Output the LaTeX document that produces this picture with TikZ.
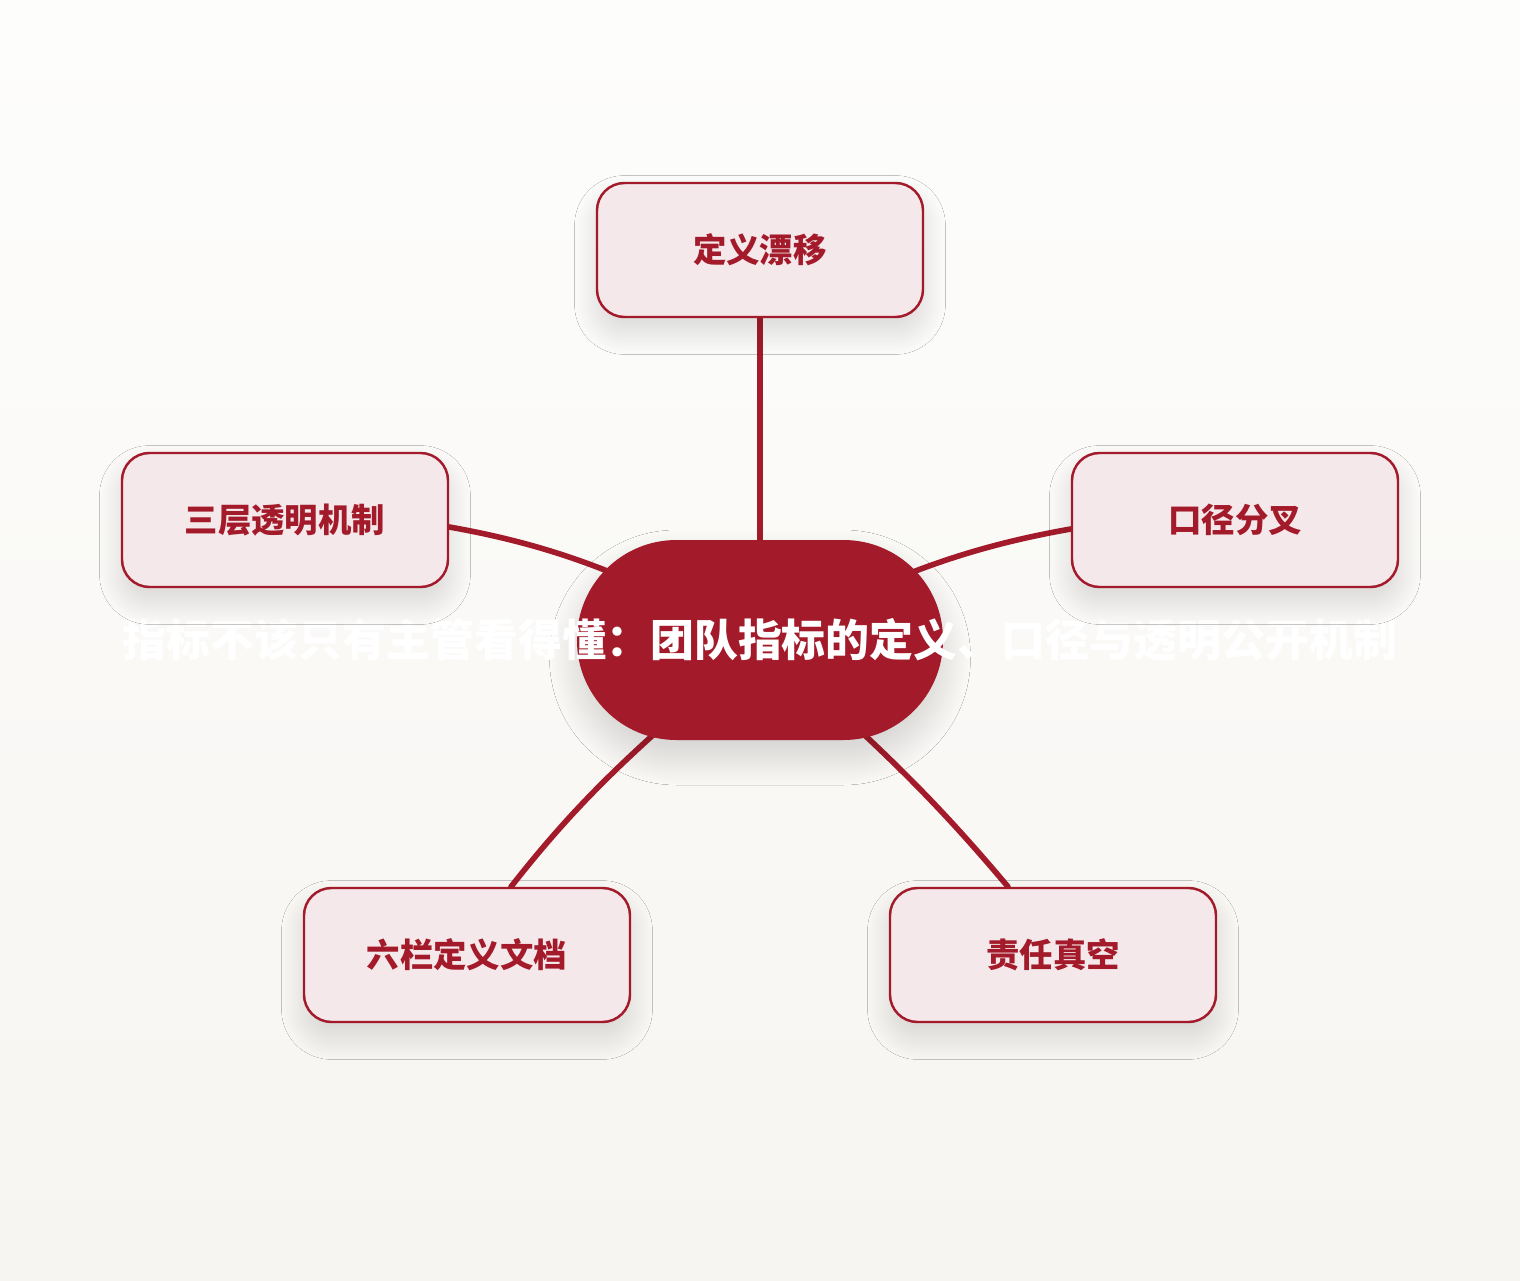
\documentclass[tikz,border=0pt]{standalone}
\usepackage{fontspec}
\setmainfont{Noto Sans CJK SC}
\usetikzlibrary{backgrounds, shadows.blur}
\definecolor{deepred}{HTML}{A31B2A}
\definecolor{blush}{HTML}{F4E8EA}
\definecolor{pagetop}{HTML}{FDFDFC}
\definecolor{pagebottom}{HTML}{F7F5F1}

\begin{document}
\begin{tikzpicture}[topic/.style={draw=deepred, line width=1.4pt, fill=blush,
		rounded corners=0.55cm, minimum width=6.52cm, minimum height=2.68cm,
		text=deepred, font=\fontsize{19pt}{23pt}\selectfont\bfseries,
		blur shadow={shadow xshift=0pt, shadow yshift=-0.3cm, shadow blur radius=0.45cm,
			shadow blur steps=40, shadow opacity=14}},
	hub/.style={fill=deepred, rounded corners=1.99cm, minimum width=7.32cm,
		minimum height=4cm, inner sep=0pt, text=white,
		font=\fontsize{25pt}{30pt}\selectfont\bfseries,
		blur shadow={shadow xshift=0pt, shadow yshift=-0.35cm, shadow blur radius=0.55cm,
			shadow blur steps=40, shadow opacity=16}},
	link/.style={draw=deepred, line width=3.2pt, line cap=round}]
	\useasboundingbox (-15.2,-12.8) rectangle (15.2,12.8);
	% centre and five topics
	\node[hub] (core) at (0,0) {\makebox[7.32cm]{指标不该只有主管看得懂：团队指标的定义、口径与透明公开机制}};
	\node[topic] (drift) at (0,7.8) {定义漂移};
	\node[topic] (layers) at (-9.5,2.4) {三层透明机制};
	\node[topic] (split) at (9.5,2.4) {口径分叉};
	\node[topic] (doc) at (-5.86,-6.3) {六栏定义文档};
	\node[topic] (vacuum) at (5.86,-6.3) {责任真空};
	\begin{pgfonlayer}{background}
		\shade[top color=pagetop, bottom color=pagebottom] (-15.2,-12.8) rectangle (15.2,12.8);
		\draw[link] (core.center) -- (drift.south);
		\draw[link] (core.center) to[out=155,in=-10] ([yshift=-0.14cm]layers.east);
		\draw[link] (core.center) to[out=25,in=190] ([yshift=-0.18cm]split.west);
		\draw[link] (core.center) to[out=222,in=52] ([xshift=0.88cm]doc.north);
		\draw[link] (core.center) to[out=-42,in=130] ([xshift=-0.9cm]vacuum.north);
	\end{pgfonlayer}
\end{tikzpicture}
\end{document}
